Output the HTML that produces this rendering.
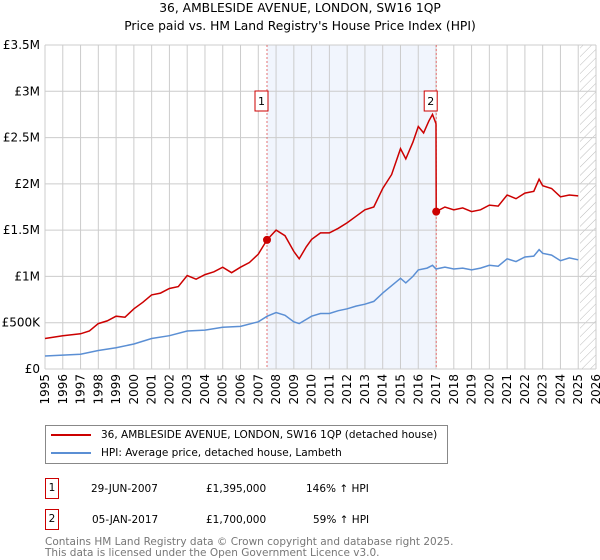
<!DOCTYPE html>
<html><head><meta charset="utf-8"><style>
body{margin:0;background:#fff;font-family:"DejaVu Sans","Liberation Sans",sans-serif}
#wrap{position:relative;width:600px;height:560px;overflow:hidden}
.t{position:absolute;font-size:10.5px;color:#000;white-space:nowrap}
svg text{font-family:"DejaVu Sans","Liberation Sans",sans-serif}
</style></head><body>
<div id="wrap">
<div class="t" style="left:0;width:600px;text-align:center;top:1px;font-size:12.3px">36, AMBLESIDE AVENUE, LONDON, SW16 1QP</div>
<div class="t" style="left:0;width:600px;text-align:center;top:19px;font-size:12.3px">Price paid vs. HM Land Registry's House Price Index (HPI)</div>
<svg id="chart" width="600" height="420" style="position:absolute;left:0;top:0"></svg>
<div style="position:absolute;left:45px;top:425px;width:403px;height:39px;border:1px solid #888;box-sizing:border-box">
 <div style="position:absolute;left:5px;top:3px;font-size:10.5px;white-space:nowrap"><span style="display:inline-block;width:40px;height:2px;background:#cc0000;vertical-align:middle;margin-right:10px"></span>36, AMBLESIDE AVENUE, LONDON, SW16 1QP (detached house)</div>
 <div style="position:absolute;left:5px;top:21px;font-size:10.5px;white-space:nowrap"><span style="display:inline-block;width:40px;height:2px;background:#5b8fd4;vertical-align:middle;margin-right:10px"></span>HPI: Average price, detached house, Lambeth</div>
</div>
<div>
 <div class="t" style="left:45px;top:478px;width:14px;height:21px;border:1px solid #cc0000;box-sizing:border-box;text-align:center;line-height:19px">1</div>
 <div class="t" style="left:91px;top:483px">29-JUN-2007</div>
 <div class="t" style="left:206px;top:483px">£1,395,000</div>
 <div class="t" style="left:306px;top:483px">146% ↑ HPI</div>
</div>
<div>
 <div class="t" style="left:45px;top:509px;width:14px;height:21px;border:1px solid #cc0000;box-sizing:border-box;text-align:center;line-height:19px">2</div>
 <div class="t" style="left:92px;top:514px">05-JAN-2017</div>
 <div class="t" style="left:206px;top:514px">£1,700,000</div>
 <div class="t" style="left:313px;top:514px">59% ↑ HPI</div>
</div>
<div class="t" style="left:45px;top:537px;color:#777;line-height:11px">Contains HM Land Registry data © Crown copyright and database right 2025.<br>This data is licensed under the Open Government Licence v3.0.</div>
</div>
<script>
const yearTicks=[1995,1996,1997,1998,1999,2000,2001,2002,2003,2004,2005,2006,2007,2008,2009,2010,2011,2012,2013,2014,2015,2016,2017,2018,2019,2020,2021,2022,2023,2024,2025,2026];
const yTicks=[0,500000,1000000,1500000,2000000,2500000,3000000,3500000];
const yTickLabels=["£0","£500K","£1M","£1.5M","£2M","£2.5M","£3M","£3.5M"];
const propT=[1995,1996,1997,1997.5,1998,1998.5,1999,1999.5,2000,2000.5,2001,2001.5,2002,2002.5,2003,2003.5,2004,2004.5,2005,2005.5,2006,2006.5,2007,2007.49,2008,2008.5,2009,2009.3,2009.7,2010,2010.5,2011,2011.5,2012,2012.5,2013,2013.5,2014,2014.5,2015,2015.3,2015.7,2016,2016.3,2016.6,2016.8,2017.0,2017.01,2017.5,2018,2018.5,2019,2019.5,2020,2020.5,2021,2021.5,2022,2022.5,2022.8,2023,2023.5,2024,2024.5,2025];
const propV=[0.33,0.36,0.38,0.41,0.49,0.52,0.57,0.56,0.65,0.72,0.80,0.82,0.87,0.89,1.01,0.97,1.02,1.05,1.10,1.04,1.10,1.15,1.24,1.395,1.50,1.44,1.27,1.19,1.32,1.40,1.47,1.47,1.52,1.58,1.65,1.72,1.75,1.95,2.10,2.38,2.27,2.45,2.62,2.55,2.68,2.75,2.65,1.70,1.75,1.72,1.74,1.70,1.72,1.77,1.76,1.88,1.84,1.90,1.92,2.05,1.98,1.95,1.86,1.88,1.87];
const hpiT=[1995,1996,1997,1998,1999,2000,2001,2002,2003,2004,2005,2006,2007,2007.5,2008,2008.5,2009,2009.3,2010,2010.5,2011,2011.5,2012,2012.5,2013,2013.5,2014,2014.5,2015,2015.3,2015.7,2016,2016.5,2016.8,2017,2017.5,2018,2018.5,2019,2019.5,2020,2020.5,2021,2021.5,2022,2022.5,2022.8,2023,2023.5,2024,2024.5,2025];
const hpiV=[0.14,0.15,0.16,0.20,0.23,0.27,0.33,0.36,0.41,0.42,0.45,0.46,0.51,0.57,0.61,0.58,0.51,0.49,0.57,0.60,0.60,0.63,0.65,0.68,0.70,0.73,0.82,0.90,0.98,0.93,1.00,1.07,1.09,1.12,1.08,1.10,1.08,1.09,1.07,1.09,1.12,1.11,1.19,1.16,1.21,1.22,1.29,1.25,1.23,1.17,1.20,1.18];
const sales=[{t:2007.49,v:1395000,n:"1"},{t:2017.01,v:1700000,n:"2"}];
const X0=45,X1=596,Y0=369,Y1=45;
const xs=t=>X0+(t-1995)/31*(X1-X0);
const ys=v=>Y0-v/3500000*(Y0-Y1);
const svg=document.getElementById('chart');const NS='http://www.w3.org/2000/svg';
function mk(tag,attrs,parent){const e=document.createElementNS(NS,tag);for(const k in attrs)e.setAttribute(k,attrs[k]);(parent||svg).appendChild(e);return e;}
let band=mk('rect',{x:xs(sales[0].t),y:Y1,width:xs(sales[1].t)-xs(sales[0].t),height:Y0-Y1,fill:'#eef3fd',opacity:0.8});


let defs=mk('defs',{});let pat=mk('pattern',{id:'h',width:6,height:6,patternUnits:'userSpaceOnUse',patternTransform:'rotate(45)'},defs);
mk('line',{x1:0,y1:0,x2:0,y2:6,stroke:'#bbb','stroke-width':1},pat);
let hatch=mk('rect',{x:xs(2025.1),y:Y1,width:X1-xs(2025.1),height:Y0-Y1,fill:'url(#h)'});


yearTicks.forEach(y=>{let l=mk('line',{x1:xs(y),x2:xs(y),y1:Y1,y2:Y0,stroke:'#ccc','stroke-width':1});


let tx=mk('text',{x:0,y:0,transform:`translate(${xs(y)+4},${Y0+5}) rotate(-90)`,'text-anchor':'end','font-size':12,fill:'#000'});tx.textContent=y;

});
yTicks.forEach((v,i)=>{let l=mk('line',{x1:X0,x2:X1,y1:ys(v),y2:ys(v),stroke:'#ccc','stroke-width':1});


let tx=mk('text',{x:40,y:ys(v)+4,'text-anchor':'end','font-size':12,fill:'#000'});tx.textContent=yTickLabels[i];

});
sales.forEach(s=>{let l=mk('line',{x1:xs(s.t),x2:xs(s.t),y1:Y1,y2:Y0,stroke:'#e05050','stroke-width':0.8,'stroke-dasharray':'2,2'});

});
const path=(T,V)=>T.map((t,i)=>(i?'L':'M')+xs(t).toFixed(1)+','+ys(V[i]*1e6).toFixed(1)).join('');
let hl=mk('path',{d:path(hpiT,hpiV),fill:'none',stroke:'#5b8fd4','stroke-width':1.5});


let pl=mk('path',{d:path(propT,propV),fill:'none',stroke:'#cc0000','stroke-width':1.5});


sales.forEach(s=>{let c=mk('circle',{cx:xs(s.t),cy:ys(s.v),r:4,fill:'#cc0000'});


let g=mk('g',{});


mk('rect',{x:xs(s.t)-12,y:91,width:13,height:20,fill:'#fff',stroke:'#cc0000','stroke-width':1},g);
let tx=mk('text',{x:xs(s.t)-5.5,y:105,'text-anchor':'middle','font-size':11},g);tx.textContent=s.n;});
</script>
</body></html>
